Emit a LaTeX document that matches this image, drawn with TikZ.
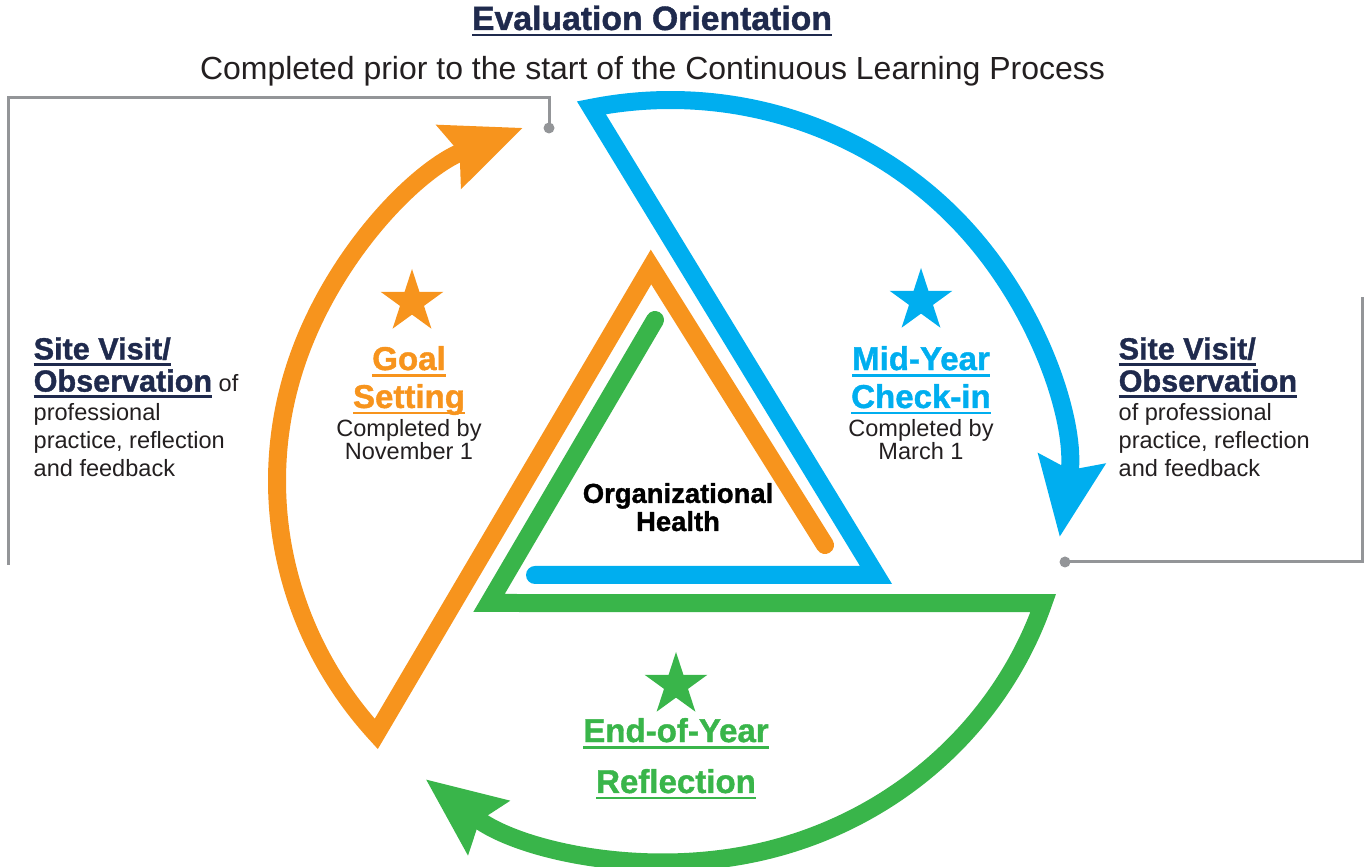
\documentclass[tikz,border=0pt]{standalone}
\usepackage{fontspec}
\setmainfont{Liberation Sans}
\newfontfamily\heavyfont{Liberation Sans Bold}[FakeBold=1.2]
\usetikzlibrary{arrows.meta}
\usetikzlibrary{shapes.geometric}
\definecolor{morange}{HTML}{F7941D}
\definecolor{mblue}{HTML}{00AEEF}
\definecolor{mgreen}{HTML}{39B54A}
\definecolor{mnavy}{HTML}{1F2A4D}
\definecolor{mgrey}{HTML}{939598}
\definecolor{mtext}{HTML}{231F20}
\newsavebox{\ulbox}
\newcommand{\uln}[1]{\sbox{\ulbox}{#1}\rlap{\rule[-1.85pt]{\wd\ulbox}{0.85pt}}\usebox{\ulbox}}
\tikzset{
  band/.style={line width=0.18cm, line join=miter, line cap=round},
  bigtip/.style={-{Stealth[length=0.78cm, width=0.65cm, inset=0.1cm]}},
  hook/.style={draw=mgrey, line width=0.03cm},
  hookdot/.style={circle, fill=mgrey, inner sep=0pt, minimum size=0.11cm},
  starmark/.style={star, star points=5, star point ratio=2.618, minimum size=0.66cm, inner sep=0pt},
  headtext/.style={font=\fontsize{9.4}{10.8}\selectfont\heavyfont, align=center, anchor=base, inner sep=0pt},
  datetext/.style={font=\fontsize{6.7}{6.7}\selectfont, text=mtext, align=center, anchor=base, inner sep=0pt},
  sidetext/.style={font=\fontsize{6.7}{8.1}\selectfont, text=mtext, align=left, anchor=base west, inner sep=0pt}
}
\newcommand{\sidehead}[1]{{\fontsize{8.7}{8.1}\selectfont\heavyfont\color{mnavy}\uln{#1}}}

\begin{document}
\begin{tikzpicture}
      \useasboundingbox (0, 0) rectangle (13.68, -8.67);

      \coordinate (O) at (6.705, -4.81);

      \coordinate (gsEnd) at (8.25, -5.45);
      \coordinate (gsTop) at (6.51, -2.67);
      \path (O) ++(221.6:3.935 and 3.81) coordinate (gsV);
      \draw [band, morange, bigtip] (gsEnd) -- (gsTop) -- (gsV)
        arc [start angle=221.6, end angle=112, x radius=3.935, y radius=3.81];

      \coordinate (myEnd) at (5.35, -5.75);
      \coordinate (myCorner) at (8.76, -5.75);
      \path (O) ++(101.6:3.935 and 3.81) coordinate (myV);
      \draw [band, mblue, bigtip] (myEnd) -- (myCorner) -- (myV)
        arc [start angle=101.6, end angle=-8.5, x radius=3.935, y radius=3.81];

      \coordinate (eyEnd) at (6.55, -3.20);
      \coordinate (eyCorner) at (4.89, -6.03);
      \path (O) ++(-18.7:3.935 and 3.81) coordinate (eyV);
      \draw [band, mgreen, bigtip] (eyEnd) -- (eyCorner) -- (eyV)
        arc [start angle=-18.7, end angle=-128.5, x radius=3.935, y radius=3.81];

      \node (lDot) at (5.49, -1.28) [hookdot] {};
      \coordinate (lTop) at (0.08, -0.98);
      \coordinate (lEnd) at (0.08, -5.65);
      \draw [hook] (lDot.center) |- (lTop) -- (lEnd);

      \node (rDot) at (10.65, -5.62) [hookdot] {};
      \coordinate (rEnd) at (13.62, -2.97);
      \draw [hook] (rDot.center) -| (rEnd);

      \node (evalTitle) at (6.52, -0.30) [anchor=base, inner sep=0pt, text=mnavy,
        font=\fontsize{9.6}{11}\selectfont\heavyfont] {\uln{Evaluation Orientation}};
      \node (evalNote) at (6.525, -0.80) [anchor=base, inner sep=0pt, text=mtext,
        font=\fontsize{9.1}{11}\selectfont] {Completed prior to the start of the Continuous Learning Process};

      \node (gsStar) at (4.12, -3.02) [starmark, fill=morange] {};
      \node (gsHead) at (4.09, -4.08) [headtext, text=morange] {\uln{Goal}\\\uln{Setting}};
      \node (gsDate) at (4.09, -4.60) [datetext] {Completed by\\November 1};

      \node (myStar) at (9.21, -3.01) [starmark, fill=mblue] {};
      \node (myHead) at (9.21, -4.08) [headtext, text=mblue] {\uln{Mid-Year}\\\uln{Check-in}};
      \node (myDate) at (9.21, -4.60) [datetext] {Completed by\\March 1};

      \node (orgHealth) at (6.78, -5.31) [anchor=base, align=center, inner sep=0pt,
        font=\fontsize{7.8}{8}\selectfont\heavyfont] {Organizational\\Health};

      \node (eyStar) at (6.76, -6.85) [starmark, fill=mgreen] {};
      \node (eyHead) at (6.76, -7.93) [headtext, text=mgreen,
        font=\fontsize{9.4}{14.5}\selectfont\heavyfont] {\uln{End-of-Year}\\\uln{Reflection}};

      \node (svLeft) at (0.33, -4.77) [sidetext]
        {\sidehead{Site Visit/}\\\sidehead{Observation} of\\professional\\practice, reflection\\and feedback};
      \node (svRight) at (11.18, -4.77) [sidetext]
        {\sidehead{Site Visit/}\\\sidehead{Observation}\\of professional\\practice, reflection\\and feedback};
\end{tikzpicture}
\end{document}
